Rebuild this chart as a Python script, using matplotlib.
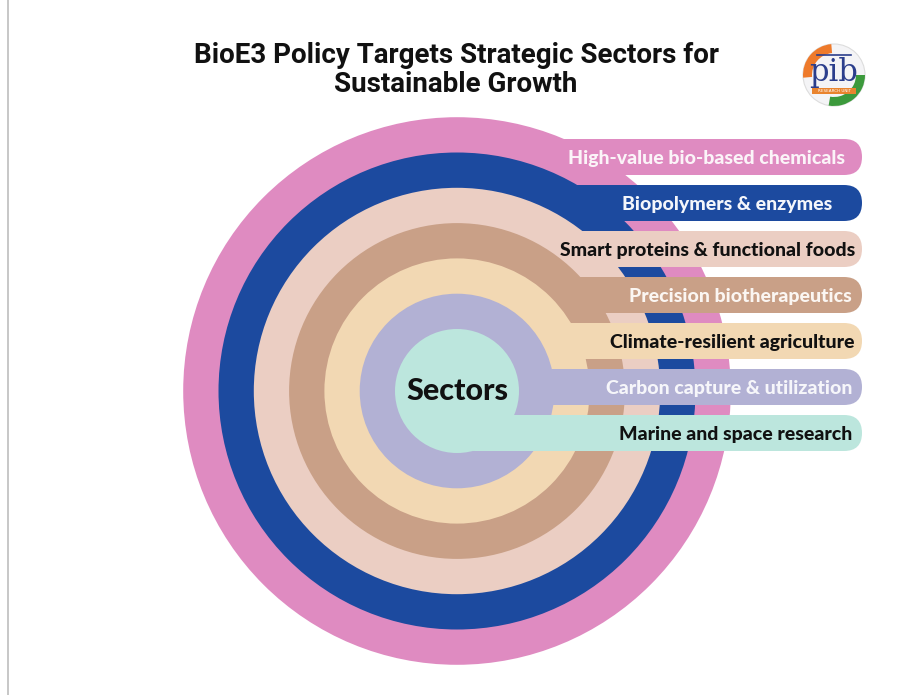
import matplotlib
matplotlib.use("Agg")
import matplotlib.pyplot as plt
from matplotlib.patches import Circle, FancyBboxPatch, Wedge, Rectangle
from matplotlib import font_manager

# ---------------- data ----------------
title = "BioE3 Policy Targets Strategic Sectors for\nSustainable Growth"
center_label = "Sectors"
sectors = [
    "High-value bio-based chemicals",
    "Biopolymers & enzymes",
    "Smart proteins & functional foods",
    "Precision biotherapeutics",
    "Climate-resilient agriculture",
    "Carbon capture & utilization",
    "Marine and space research",
]
ring_colors = ["#DF8BC1", "#1C4A9F", "#EBCEC3", "#C9A087", "#F2D8B3", "#B2B1D4", "#BCE6DD"]
text_colors = ["#FBF4F8", "#F4F6FB", "#111111", "#FBF6F2", "#111111", "#F6F6FA", "#111111"]

# ---------------- layout ----------------
W, H = 909, 695
CX, CY = 457, 391
R_INNER, R_STEP = 62, 35.3
BAR_Y0, BAR_STEP, BAR_H = 157, 46, 36
BAR_RIGHT = 862
text_right = [845, 832, 855, 852, 855, 852, 852]

names = {f.name for f in font_manager.fontManager.ttflist}
title_font = "Liberation Sans Narrow" if "Liberation Sans Narrow" in names else "Roboto"
label_font = "Lato" if "Lato" in names else "DejaVu Sans"

fig = plt.figure(figsize=(W / 100, H / 100), dpi=100)
ax = fig.add_axes([0, 0, 1, 1])
ax.set_xlim(0, W)
ax.set_ylim(H, 0)
ax.set_aspect("equal")
ax.axis("off")

n = len(sectors)
for i in range(n):
    r = R_INNER + R_STEP * (n - 1 - i)
    col = ring_colors[i]
    ax.add_patch(Circle((CX, CY), r, facecolor=col, edgecolor="none", zorder=2 + i))
    yc = BAR_Y0 + BAR_STEP * i
    ax.add_patch(FancyBboxPatch((CX, yc - BAR_H / 2), BAR_RIGHT - CX, BAR_H,
                                boxstyle=f"round,pad=0,rounding_size={BAR_H/2}",
                                facecolor=col, edgecolor="none", zorder=2 + i))
    ax.text(text_right[i], yc, sectors[i], ha="right", va="center_baseline",
            fontsize=14, fontweight=900, family=label_font,
            color=text_colors[i], zorder=20)

ax.text(CX, CY - 3, center_label, ha="center", va="center_baseline", fontsize=22,
        fontweight=900, family=label_font, color="#111111", zorder=20)

ax.text(456, 70, title, ha="center", va="center", fontsize=20, fontweight="bold",
        family=title_font, color="#111111", linespacing=1.05, zorder=20)

# left border line
ax.plot([8, 8], [0, H], color="#bdbdbd", lw=1.2, zorder=1)

# logo
LX, LY, LR = 834, 75, 31
ax.add_patch(Circle((LX, LY), LR, facecolor="#f4f4f6", edgecolor="#dddddd", lw=0.8, zorder=30))
ax.add_patch(Wedge((LX, LY), LR, 175, 265, width=9, facecolor="#EE7A2B", edgecolor="none", zorder=31))
ax.add_patch(Wedge((LX, LY), LR, 0, 100, width=9, facecolor="#3C9A3C", edgecolor="none", zorder=31))
ax.text(LX, LY - 3, "pib", ha="center", va="center", fontsize=22, family="DejaVu Serif",
        color="#2B3E8C", zorder=32)
ax.plot([LX - 17, LX + 17], [LY - 20, LY - 20], color="#2B3E8C", lw=1.2, zorder=32)
ax.add_patch(Rectangle((LX - 22, LY + 13), 44, 6, facecolor="#E9842E", edgecolor="none", zorder=32))
ax.text(LX, LY + 16, "RESEARCH UNIT", ha="center", va="center", fontsize=3,
        color="white", zorder=33)

fig.savefig("out.png", dpi=100, facecolor="white")
